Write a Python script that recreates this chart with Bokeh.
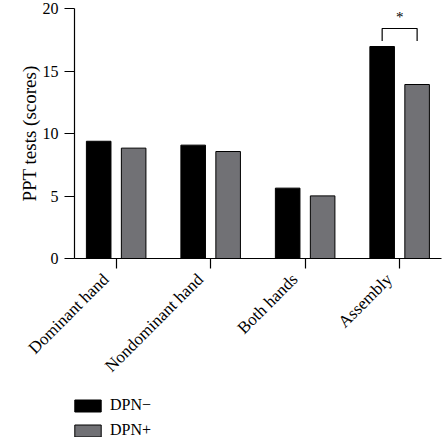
import math
from bokeh.plotting import figure
from bokeh.layouts import column
from bokeh.models import (ColumnDataSource, FixedTicker, Range1d, Legend,
                          LegendItem, Title, LinearAxis)
from bokeh.core.properties import value
from bokeh.embed import file_html
from bokeh.resources import INLINE

categories = ["Dominant hand", "Nondominant hand", "Both hands", "Assembly"]
dpn_minus = [9.38, 9.07, 5.63, 16.96]
dpn_plus = [8.83, 8.56, 5.01, 13.92]
y_ticks = [0, 5, 10, 15, 20]
series_names = ["DPN\u2212", "DPN+"]
y_title = "PPT tests (scores)"
sig_group = 4
sig_top = 18.4
sig_leg = 17.4
sig_star_y = 19.35

FONT = "Liberation Serif"
GRAY = "#717175"
OFF = 0.185
BW = 0.26
LABEL_SHIFT = 0.109375  # exact binary fraction

xs = list(range(1, len(categories) + 1))
src = ColumnDataSource(dict(
    xm=[x - OFF for x in xs],
    xp=[x + OFF for x in xs],
    minus=dpn_minus,
    plus=dpn_plus,
))

p = figure(width=442, height=392, output_backend="svg", toolbar_location=None,
           x_range=Range1d(0.559, 4.443), y_range=Range1d(0, 20),
           min_border_left=74, min_border_right=1, min_border_top=8,
           min_border_bottom=134)

r1 = p.vbar(x="xm", top="minus", width=BW, source=src, fill_color="black",
            line_color="black", line_width=1)
r2 = p.vbar(x="xp", top="plus", width=BW, source=src, fill_color=GRAY,
            line_color="black", line_width=1)

# significance bracket
i = sig_group - 1
x0 = xs[i] - OFF
x1 = xs[i] + OFF
p.multi_line(xs=[[x0, x0, x1, x1]], ys=[[sig_leg, sig_top, sig_top, sig_leg]],
             line_color="black", line_width=1.2)
p.text(x=[(x0 + x1) / 2], y=[sig_star_y], text=["*"], text_align="center",
       text_baseline="middle", text_font=value(FONT), text_font_size="15px",
       text_color="black", text_alpha=1.0)

p.xgrid.visible = False
p.ygrid.visible = False
p.outline_line_color = None
p.background_fill_color = "white"
p.border_fill_color = "white"

# primary x axis: line and tick marks only
xa = p.xaxis[0]
xa.ticker = FixedTicker(ticks=xs)
xa.major_label_overrides = {x: "" for x in xs}
xa.major_label_text_font_size = "0px"
xa.major_label_standoff = 0
xa.major_tick_out = 10
xa.major_tick_in = 0
xa.minor_tick_line_color = None
xa.axis_line_width = 1.2
xa.major_tick_line_width = 1.2

# label axis: category names, rotated
label_pos = [x - LABEL_SHIFT for x in xs]
xb = LinearAxis(ticker=FixedTicker(ticks=label_pos))
xb.major_label_overrides = {lp: c for lp, c in zip(label_pos, categories)}
xb.major_label_orientation = math.pi / 4
xb.axis_line_color = None
xb.major_tick_line_color = None
xb.minor_tick_line_color = None
xb.major_tick_out = 0
xb.major_tick_in = 0
xb.major_label_text_font = FONT
xb.major_label_text_font_size = "17px"
xb.major_label_text_color = "black"
xb.major_label_standoff = 8
p.add_layout(xb, "below")

ya = p.yaxis[0]
ya.ticker = FixedTicker(ticks=y_ticks)
ya.major_tick_out = 10
ya.major_tick_in = 0
ya.minor_tick_line_color = None
ya.axis_line_width = 1.2
ya.major_tick_line_width = 1.2
ya.major_label_text_font = FONT
ya.major_label_text_font_size = "16px"
ya.major_label_text_color = "black"
ya.major_label_standoff = 6

# blank spacer axis between tick labels and the y title
spacer = LinearAxis(ticker=FixedTicker(ticks=[]), axis_line_color=None,
                    major_tick_line_color=None, minor_tick_line_color=None,
                    major_tick_out=18, major_tick_in=0, minor_tick_out=0)
p.add_layout(spacer, "left")

yt = Title(text=y_title, align="center", offset=20, standoff=0,
           text_font=FONT, text_font_size="19px", text_font_style="normal",
           text_color="black")
p.add_layout(yt, "left")

# legend panel below the chart
p2 = figure(width=442, height=45, output_backend="svg", toolbar_location=None,
            x_range=Range1d(100, 101), y_range=Range1d(100, 101),
            min_border_left=74, min_border_right=0, min_border_top=0,
            min_border_bottom=0, x_axis_type=None, y_axis_type=None)
p2.xgrid.visible = False
p2.ygrid.visible = False
p2.outline_line_color = None
l1 = p2.vbar(x="xm", top="minus", width=BW, source=src, fill_color="black",
             line_color="black", line_width=1)
l2 = p2.vbar(x="xp", top="plus", width=BW, source=src, fill_color=GRAY,
             line_color="black", line_width=1)

lg = Legend(items=[LegendItem(label=series_names[0], renderers=[l1]),
                   LegendItem(label=series_names[1], renderers=[l2])],
            location=(-3, -2), orientation="vertical")
lg.border_line_color = None
lg.background_fill_alpha = 0
lg.padding = 0
lg.margin = 0
lg.glyph_width = 33
lg.glyph_height = 15
lg.label_height = 15
lg.label_standoff = 6
lg.spacing = 7
lg.label_text_font = FONT
lg.label_text_font_size = "16px"
lg.label_text_color = "black"
p2.add_layout(lg, "center")

layout = column(p, p2, spacing=0)
open("out.html", "w").write(file_html(layout, INLINE))
